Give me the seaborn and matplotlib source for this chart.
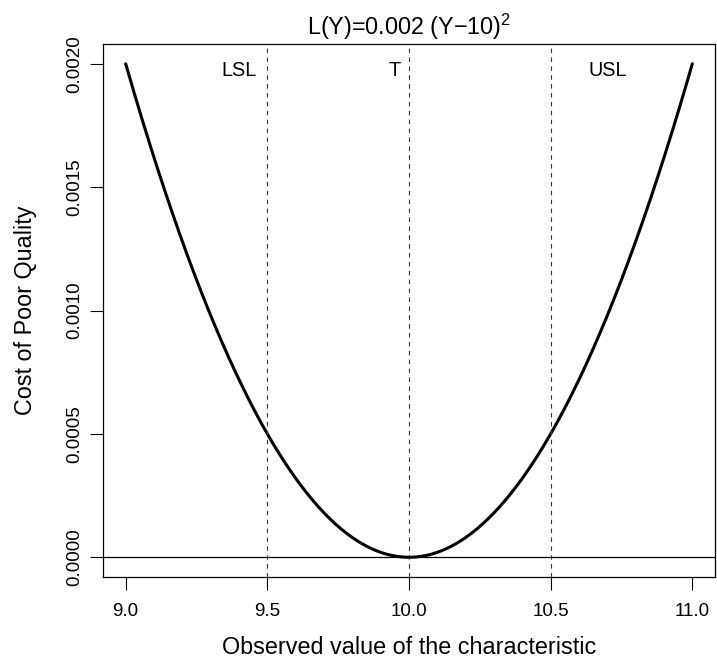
import numpy as np
import pandas as pd
import matplotlib
matplotlib.use("Agg")
import matplotlib.pyplot as plt
import seaborn as sns

# Quadratic loss function L(Y) = k (Y - T)^2
k_coef = 0.002
target = 10.0
lsl, usl = 9.5, 10.5
y_min, y_max = 9.0, 11.0

spec_positions = [lsl, target, usl]
spec_labels = ["LSL", "T", "USL"]
spec_label_x = [9.4, 9.95, 10.7]
spec_label_y = 0.00195

x_ticks = [9.0, 9.5, 10.0, 10.5, 11.0]
x_tick_labels = ["9.0", "9.5", "10.0", "10.5", "11.0"]
y_ticks = [0.0, 0.0005, 0.0010, 0.0015, 0.0020]
y_tick_labels = ["0.0000", "0.0005", "0.0010", "0.0015", "0.0020"]

yy = np.linspace(y_min, y_max, 401)
df = pd.DataFrame({"Y": yy, "L": k_coef * (yy - target) ** 2})

sns.set_theme(style="ticks")
plt.rcParams["font.family"] = ["Liberation Sans", "DejaVu Sans"]
plt.rcParams["mathtext.fontset"] = "custom"
plt.rcParams["mathtext.rm"] = "Liberation Sans"
plt.rcParams["mathtext.it"] = "Liberation Sans"
for key in ["text.color", "axes.labelcolor", "xtick.color", "ytick.color", "axes.edgecolor"]:
    plt.rcParams[key] = "black"

W, H = 717, 662
fig = plt.figure(figsize=(W / 100, H / 100), dpi=100)
left, right, top, bottom = 103, 715, 44, 577
ax = fig.add_axes([left / W, 1 - bottom / H, (right - left) / W, (bottom - top) / H])

sns.lineplot(data=df, x="Y", y="L", ax=ax, color="black", linewidth=2.2)

for xv in spec_positions:
    ax.axvline(xv, color="#333333", linestyle=(0, (4, 4)), linewidth=0.8)
ax.axhline(0.0, color="black", linewidth=0.9)

for xl, lab in zip(spec_label_x, spec_labels):
    ax.text(xl, spec_label_y, lab, ha="center", va="baseline", fontsize=14.3)

ax.set_xlim(8.92, 11.08)
ax.set_ylim(-0.00008, 0.00208)
ax.set_xticks(x_ticks)
ax.set_xticklabels(x_tick_labels, fontsize=13.5)
ax.set_yticks(y_ticks)
ax.set_yticklabels(y_tick_labels, fontsize=13.5, rotation=90, va="center")
ax.tick_params(axis="both", direction="out", length=9.4, width=0.8, color="black")
ax.tick_params(axis="x", pad=9.2)
ax.tick_params(axis="y", pad=5.0)

for s in ax.spines.values():
    s.set_color("black")
    s.set_linewidth(0.9)
    s.set_visible(True)

ax.set_xlabel("")
ax.set_ylabel("")
cx = (left + right) / 2 / W
cy = 1 - (top + bottom) / 2 / H
fig.text(cx, 8 / H, "Observed value of the characteristic", ha="center", va="baseline", fontsize=16.8)
fig.text(32 / W, cy, "Cost of Poor Quality", ha="center", va="baseline", rotation=90,
         rotation_mode="anchor", fontsize=16.8)
fig.text(cx, 1 - 35 / H, r"L(Y)=0.002 (Y$-$10)$^2$", ha="center", va="baseline", fontsize=16.8)

fig.savefig("out.png", dpi=100, facecolor="white")
